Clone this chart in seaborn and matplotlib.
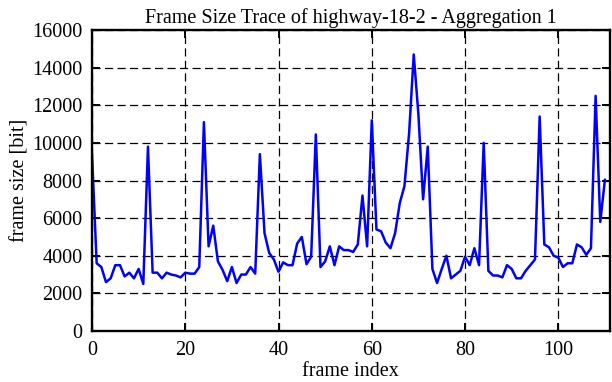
import matplotlib
matplotlib.use("Agg")
import matplotlib.pyplot as plt
import seaborn as sns
import pandas as pd

frame_size = [
    9400, 3600, 3400, 2600, 2800, 3500, 3500, 2900, 3100, 2800,
    3300, 2500, 9800, 3100, 3100, 2800, 3100, 3000, 2950, 2850,
    3100, 3050, 3050, 3400, 11100, 4500, 5600, 3700, 3250, 2650,
    3400, 2550, 3000, 3000, 3400, 3050, 9400, 5200, 4150, 3800,
    3150, 3650, 3500, 3500, 4650, 5000, 3550, 3950, 10450, 3400,
    3700, 4500, 3500, 4500, 4300, 4300, 4200, 4600, 7200, 4500,
    11200, 5400, 5300, 4700, 4400, 5200, 6800, 7700, 10500, 14700,
    11500, 7000, 9800, 3300, 2550, 3300, 4000, 2800, 3000, 3200,
    3950, 3500, 4400, 3500, 10000, 3200, 2950, 2950, 2850, 3500,
    3300, 2800, 2800, 3200, 3500, 3800, 11400, 4600, 4450, 4000,
    3900, 3400, 3600, 3600, 4600, 4450, 4050, 4400, 12500, 5800,
    8050,
]
frame_index = list(range(len(frame_size)))
x_ticks = [0, 20, 40, 60, 80, 100]
y_ticks = [0, 2000, 4000, 6000, 8000, 10000, 12000, 14000, 16000]

sns.set_style("ticks")
plt.rcParams['font.family'] = ['Liberation Serif', 'DejaVu Serif']
plt.rcParams['text.color'] = 'black'
plt.rcParams['axes.labelcolor'] = 'black'

df = pd.DataFrame({"frame index": frame_index, "frame size [bit]": frame_size})

fig = plt.figure(figsize=(6.12, 3.82), dpi=100)
ax = fig.add_axes([92/612, 1-331/382, (609.6-92)/612, (331-30)/382])

sns.lineplot(data=df, x="frame index", y="frame size [bit]", ax=ax,
             color="#0000ff", linewidth=1.8, zorder=3)

fs = 14.5
ax.set_xlim(0, 111)
ax.set_ylim(0, 16000)
ax.set_xticks(x_ticks)
ax.set_yticks(y_ticks)
ax.set_xticklabels([str(t) for t in x_ticks])
ax.set_yticklabels([str(t) for t in y_ticks])
ax.tick_params(direction="in", length=6, width=1.4, top=True, right=True,
               labelsize=fs, colors="black", pad=7)
ax.grid(True, color="black", linestyle=(0, (6.5, 3.5)), linewidth=0.9)
for s in ax.spines.values():
    s.set_linewidth(1.7)
    s.set_color("black")
    s.set_zorder(4)

ax.set_xlabel("frame index", fontsize=fs, labelpad=2, color="black")
ax.set_ylabel("frame size [bit]", fontsize=fs, labelpad=2, color="black")
ax.set_title("Frame Size Trace of highway-18-2 - Aggregation 1", fontsize=fs, pad=5, color="black")

fig.savefig("out.png", dpi=100)
